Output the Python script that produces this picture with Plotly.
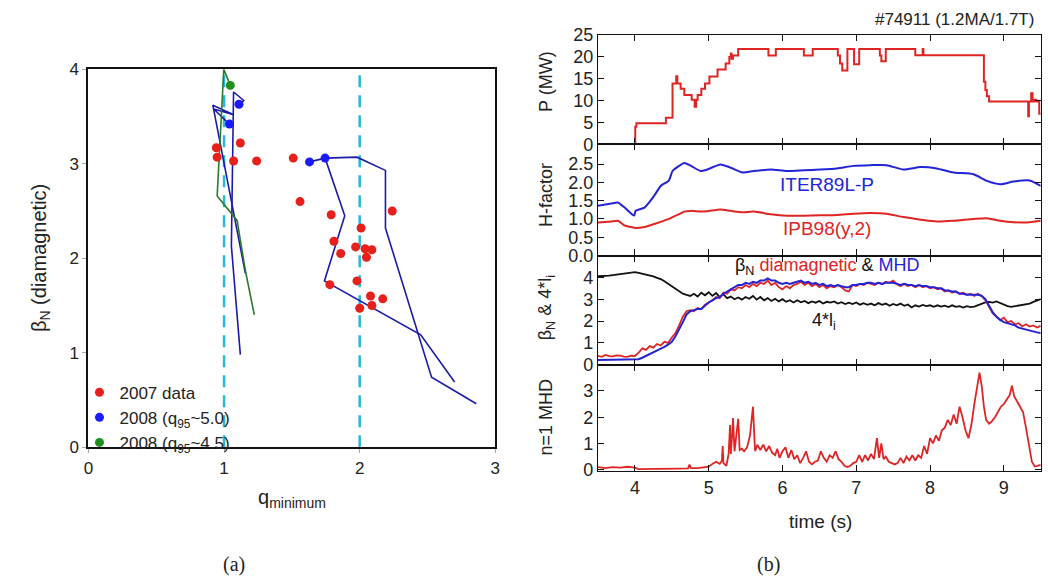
import plotly.graph_objects as go

W, H = 1048, 582
FONT = "Liberation Sans, Arial, sans-serif"

# ---------------- panel (a) data ----------------
red_q = [0.943, 0.949, 1.12, 1.07, 1.24, 1.51, 1.56, 1.79, 2.24, 2.01, 1.81, 1.97, 1.86, 2.04, 2.09,
         2.05, 1.98, 1.78, 2.08, 2.17, 2.09, 2.00]
red_b = [3.17, 3.07, 3.22, 3.03, 3.03, 3.06, 2.60, 2.46, 2.50, 2.32, 2.18, 2.12, 2.05, 2.10, 2.09,
         2.01, 1.76, 1.72, 1.60, 1.57, 1.50, 1.47]

blue_dot_q = [1.63, 1.745, 1.04, 1.11]
blue_dot_b = [3.02, 3.06, 3.42, 3.63]

blue_r2_q = [2.86, 2.53, 2.19, 2.19, 1.98, 1.745, 1.63]
blue_r2_b = [0.46, 0.74, 2.32, 2.93, 3.07, 3.06, 3.02]
blue_r1_q = [2.70, 2.45, 1.74, 1.89, 1.745]
blue_r1_b = [0.69, 1.19, 1.76, 2.45, 3.06]
blue_l1_q = [1.12, 1.054, 1.07, 1.145, 1.108]
blue_l1_b = [0.98, 2.13, 3.76, 3.67, 3.62]
blue_l2_q = [1.157, 0.917, 1.071, 0.924, 1.039]
blue_l2_b = [1.84, 3.62, 3.52, 3.58, 3.42]

green_q = [1.223, 1.157, 1.096, 0.949, 0.998, 1.046]
green_b = [1.40, 1.87, 2.40, 2.66, 4.00, 3.83]
green_dot_q = [1.046]
green_dot_b = [3.83]

ref_q = [1, 2]
ref_b = [0, 4]

# ---------------- panel (b) data ----------------
p_t = [4.00, 4.005, 4.02, 4.42, 4.51, 4.56, 4.575, 4.62, 4.67, 4.77, 4.81, 4.83, 4.85, 4.90, 4.95,
       5.01, 5.12, 5.23, 5.28, 5.30, 5.31, 5.33, 5.40, 5.81, 5.91, 6.29, 6.41, 6.75, 6.78, 6.81,
       6.88, 6.97, 7.04, 7.32, 7.34, 7.40, 7.80, 7.90, 7.91, 8.73, 8.75, 8.77, 8.80, 9.33, 9.34,
       9.37, 9.39, 9.41, 9.44, 9.48, 9.50]
p_v = [0.0, 4.0, 4.8, 6.1, 13.9, 15.6, 13.9, 12.7, 11.3, 10.2, 8.6, 10.2, 11.3, 12.7, 13.9,
       15.5, 17.1, 18.5, 20.0, 20.8, 19.6, 20.3, 21.8, 20.3, 21.8, 20.3, 21.8, 20.3, 18.5, 16.9,
       21.8, 18.3, 21.8, 20.3, 19.0, 21.8, 20.4, 21.8, 20.4, 14.3, 12.4, 11.0, 9.8, 6.4, 9.8,
       11.7, 9.8, 10.2, 9.8, 7.0, 7.0]

h_t = [3.50, 3.68, 3.77, 3.86, 3.99, 4.01, 4.13, 4.26, 4.35, 4.46, 4.51, 4.60, 4.67, 4.76, 4.89,
       4.98, 5.16, 5.30, 5.46, 5.61, 5.84, 6.06, 6.29, 6.51, 6.74, 6.96, 7.19, 7.41, 7.64, 7.87,
       8.09, 8.32, 8.59, 8.77, 8.95, 9.13, 9.35, 9.50]
h_iter = [1.36, 1.42, 1.45, 1.31, 1.09, 1.22, 1.31, 1.63, 1.90, 2.05, 2.31, 2.45, 2.53, 2.45, 2.31,
          2.35, 2.49, 2.40, 2.27, 2.31, 2.35, 2.31, 2.33, 2.35, 2.38, 2.45, 2.47, 2.47, 2.35, 2.42,
          2.38, 2.27, 2.22, 2.04, 1.95, 2.02, 2.05, 1.90]
h_ipb = [0.90, 0.93, 0.95, 0.82, 0.76, 0.75, 0.78, 0.86, 0.92, 1.00, 1.05, 1.13, 1.20, 1.22, 1.20,
         1.21, 1.26, 1.22, 1.18, 1.20, 1.13, 1.09, 1.09, 1.10, 1.11, 1.14, 1.16, 1.14, 1.05, 0.98,
         0.93, 0.95, 1.00, 1.02, 0.95, 0.91, 0.91, 0.95]

b_t = [3.50, 3.55, 3.60, 3.65, 3.70, 3.75, 3.80, 3.85, 3.90, 3.95, 4.00, 4.05, 4.10, 4.15, 4.20,
       4.25, 4.30, 4.35, 4.40, 4.45, 4.50, 4.55, 4.60, 4.65, 4.70, 4.75, 4.80, 4.85, 4.90, 4.95,
       5.00, 5.05, 5.10, 5.15, 5.20, 5.25, 5.30, 5.35, 5.40, 5.45, 5.50, 5.55, 5.60, 5.65, 5.70,
       5.75, 5.80, 5.85, 5.90, 5.95, 6.00, 6.05, 6.10, 6.15, 6.20, 6.25, 6.30, 6.35, 6.40, 6.45,
       6.50, 6.55, 6.60, 6.65, 6.70, 6.75, 6.80, 6.85, 6.90, 6.95, 7.00, 7.05, 7.10, 7.15, 7.20,
       7.25, 7.30, 7.35, 7.40, 7.45, 7.50, 7.55, 7.60, 7.65, 7.70, 7.75, 7.80, 7.85, 7.90, 7.95,
       8.00, 8.05, 8.10, 8.15, 8.20, 8.25, 8.30, 8.35, 8.40, 8.45, 8.50, 8.55, 8.60, 8.65, 8.70,
       8.75, 8.80, 8.85, 8.90, 8.95, 9.00, 9.05, 9.10, 9.15, 9.20, 9.25, 9.30, 9.35, 9.40, 9.45,
       9.50]
b_dia = [0.40, 0.36, 0.45, 0.39, 0.38, 0.43, 0.42, 0.37, 0.36, 0.42, 0.40, 0.55, 0.75, 0.68, 0.85,
         0.78, 0.95, 0.88, 1.05, 1.00, 1.25, 1.45, 1.80, 2.20, 2.45, 2.50, 2.45, 2.60, 2.55, 2.75,
         2.85, 2.95, 3.10, 3.05, 3.30, 3.25, 3.45, 3.40, 3.55, 3.50, 3.65, 3.55, 3.70, 3.60, 3.75,
         3.70, 3.85, 3.65, 3.75, 3.55, 3.45, 3.60, 3.50, 3.65, 3.70, 3.80, 3.65, 3.75, 3.60, 3.70,
         3.55, 3.65, 3.50, 3.60, 3.55, 3.65, 3.55, 3.40, 3.35, 3.65, 3.60, 3.70, 3.65, 3.75, 3.70,
         3.65, 3.75, 3.70, 3.80, 3.75, 3.85, 3.70, 3.60, 3.70, 3.60, 3.65, 3.55, 3.65, 3.55, 3.60,
         3.50, 3.55, 3.45, 3.50, 3.35, 3.40, 3.30, 3.35, 3.25, 3.30, 3.20, 3.25, 3.15, 3.25, 3.15,
         2.95, 2.65, 2.35, 2.20, 2.05, 2.15, 1.95, 2.00, 1.85, 1.90, 1.75, 1.85, 1.75, 1.80, 1.70,
         1.78]
b_mhd = [0.22, 0.22, 0.22, 0.22, 0.22, 0.22, 0.22, 0.22, 0.22, 0.22, 0.22, 0.25, 0.32, 0.40, 0.48,
         0.55, 0.63, 0.72, 0.82, 0.92, 1.05, 1.30, 1.60, 1.95, 2.30, 2.45, 2.50, 2.55, 2.55, 2.70,
         2.85, 2.95, 3.05, 3.10, 3.25, 3.35, 3.45, 3.55, 3.65, 3.65, 3.75, 3.70, 3.80, 3.75, 3.85,
         3.85, 3.95, 3.85, 3.85, 3.75, 3.70, 3.75, 3.70, 3.75, 3.80, 3.85, 3.75, 3.80, 3.70, 3.75,
         3.65, 3.70, 3.60, 3.65, 3.60, 3.65, 3.60, 3.55, 3.55, 3.65, 3.65, 3.70, 3.70, 3.75, 3.75,
         3.70, 3.75, 3.70, 3.75, 3.75, 3.75, 3.70, 3.65, 3.70, 3.65, 3.65, 3.60, 3.65, 3.60, 3.60,
         3.55, 3.55, 3.50, 3.50, 3.40, 3.40, 3.35, 3.35, 3.25, 3.25, 3.20, 3.20, 3.20, 3.20, 3.15,
         3.00, 2.70, 2.40, 2.20, 2.05, 1.95, 1.90, 1.85, 1.80, 1.70, 1.65, 1.60, 1.55, 1.50, 1.48,
         1.45]
b_li = [4.05, 4.05, 4.06, 4.08, 4.10, 4.12, 4.14, 4.16, 4.18, 4.22, 4.24, 4.20, 4.16, 4.14, 4.08,
        4.04, 3.98, 3.92, 3.82, 3.70, 3.58, 3.45, 3.35, 3.25, 3.20, 3.15, 3.25, 3.12, 3.30, 3.18,
        3.32, 3.15, 3.28, 3.10, 3.22, 3.05, 3.12, 3.00, 3.08, 2.98, 3.10, 3.02, 3.15, 2.98, 3.10,
        2.95, 3.05, 2.92, 3.02, 2.90, 3.00, 2.88, 2.95, 2.85, 2.95, 2.86, 2.92, 2.82, 2.90, 2.84,
        2.92, 2.80, 2.88, 2.84, 2.90, 2.80, 2.86, 2.78, 2.84, 2.78, 2.85, 2.75, 2.82, 2.74, 2.80,
        2.72, 2.82, 2.74, 2.80, 2.70, 2.78, 2.72, 2.80, 2.70, 2.76, 2.62, 2.72, 2.66, 2.74, 2.68,
        2.72, 2.65, 2.72, 2.66, 2.70, 2.64, 2.72, 2.65, 2.68, 2.62, 2.68, 2.64, 2.66, 2.72, 2.80,
        2.85, 2.88, 2.84, 2.90, 2.82, 2.75, 2.68, 2.65, 2.68, 2.70, 2.72, 2.78, 2.80, 2.88, 2.95,
        3.00]

m_t = [3.50, 3.60, 3.70, 3.80, 3.90, 4.00, 4.05, 4.20, 4.40, 4.60, 4.72, 4.74, 4.76, 4.85, 4.95,
       5.00, 5.05, 5.10, 5.15, 5.18, 5.19, 5.20, 5.24, 5.27, 5.29, 5.30, 5.32, 5.33, 5.35, 5.37,
       5.40, 5.42, 5.45, 5.48, 5.52, 5.56, 5.58, 5.60, 5.62, 5.63, 5.66, 5.70, 5.74, 5.78, 5.82,
       5.86, 5.90, 5.93, 5.96, 6.00, 6.04, 6.08, 6.12, 6.16, 6.20, 6.24, 6.28, 6.32, 6.36, 6.40,
       6.44, 6.48, 6.52, 6.56, 6.60, 6.64, 6.68, 6.72, 6.76, 6.80, 6.84, 6.88, 6.92, 6.96, 7.00,
       7.04, 7.08, 7.12, 7.16, 7.20, 7.24, 7.28, 7.31, 7.34, 7.37, 7.40, 7.44, 7.48, 7.52, 7.56,
       7.60, 7.64, 7.68, 7.72, 7.76, 7.80, 7.84, 7.88, 7.92, 7.96, 8.00, 8.04, 8.08, 8.12, 8.16,
       8.20, 8.24, 8.28, 8.32, 8.36, 8.40, 8.44, 8.48, 8.52, 8.56, 8.60, 8.64, 8.67, 8.70, 8.73,
       8.76, 8.80, 8.84, 8.88, 8.92, 8.96, 9.00, 9.04, 9.08, 9.11, 9.14, 9.18, 9.22, 9.26, 9.30,
       9.34, 9.38, 9.42, 9.46, 9.50]
m_v = [0.10, 0.06, 0.10, 0.08, 0.11, 0.08, 0.02, 0.02, 0.03, 0.04, 0.05, 0.19, 0.06, 0.06, 0.10,
       0.12, 0.22, 0.30, 0.22, 0.35, 0.90, 0.25, 0.15, 0.60, 1.70, 0.60, 1.40, 1.97, 0.70, 1.20,
       1.94, 0.75, 0.80, 0.70, 0.85, 1.30, 1.90, 2.40, 1.20, 0.70, 0.95, 0.75, 0.95, 0.70, 0.90,
       0.65, 0.55, 0.80, 0.45, 0.70, 0.85, 0.45, 0.75, 0.40, 0.55, 0.25, 0.45, 0.70, 0.30, 0.20,
       0.30, 0.35, 0.70, 0.45, 0.30, 0.55, 0.45, 0.70, 0.40, 0.30, 0.15, 0.10, 0.15, 0.25, 0.30,
       0.55, 0.30, 0.55, 0.35, 0.60, 0.40, 1.20, 0.45, 1.00, 0.40, 0.50, 0.30, 0.25, 0.20, 0.25,
       0.45, 0.25, 0.50, 0.35, 0.55, 0.35, 0.55, 0.45, 0.90, 0.60, 1.20, 1.00, 1.30, 1.10, 1.50,
       1.60, 1.90, 1.70, 2.10, 1.75, 2.40, 2.00, 1.50, 1.20, 1.70, 2.50, 3.20, 3.70, 3.20, 2.40,
       1.90, 1.75, 1.85, 2.00, 2.20, 2.40, 2.50, 2.70, 2.85, 3.20, 2.80, 2.60, 2.40, 2.20, 1.60,
       0.90, 0.30, 0.12, 0.15, 0.18]

t_ticks = [4, 5, 6, 7, 8, 9]

# ---------------- layout helpers: target picture pixel -> paper fraction ----------------
# (compensates the small offset/scale measured between the page and the photographed picture)
OX, SX = 2.3, 0.9933
OY, SY = 7.75, 0.9725

def fx(px):
    return min(max(((px - OX) / SX) / W, 0.0), 1.0)

def fy(py):
    return min(max(1 - ((py - OY) / SY) / H, 0.0), 1.0)

RED = "#e8201c"
BLUE_DOT = "#1a1aff"
BLUE_LINE = "#1b1ba8"
GREEN_DOT = "#1f8f1f"
GREEN_LINE = "#2a7a2a"
CYAN = "#29b6d8"
R_RED = "#e02424"
R_BLUE = "#2323d8"

fig = go.Figure()

for q in ref_q:
    fig.add_trace(go.Scatter(x=[q, q], y=ref_b, mode="lines", xaxis="x", yaxis="y",
                             line=dict(color=CYAN, width=2.5, dash="12px,8px"),
                             showlegend=False, hoverinfo="skip"))

for qs, bs in [(blue_r2_q, blue_r2_b), (blue_r1_q, blue_r1_b),
               (blue_l1_q, blue_l1_b), (blue_l2_q, blue_l2_b)]:
    fig.add_trace(go.Scatter(x=qs, y=bs, mode="lines", xaxis="x", yaxis="y",
                             line=dict(color=BLUE_LINE, width=1.6), showlegend=False))
fig.add_trace(go.Scatter(x=green_q, y=green_b, mode="lines", xaxis="x", yaxis="y",
                         line=dict(color=GREEN_LINE, width=1.6), showlegend=False))

fig.add_trace(go.Scatter(x=red_q, y=red_b, mode="markers", xaxis="x", yaxis="y",
                         marker=dict(color=RED, size=9), name="2007 data"))
fig.add_trace(go.Scatter(x=blue_dot_q, y=blue_dot_b, mode="markers", xaxis="x", yaxis="y",
                         marker=dict(color=BLUE_DOT, size=9), name="2008 (q<sub>95</sub>~5.0)"))
fig.add_trace(go.Scatter(x=green_dot_q, y=green_dot_b, mode="markers", xaxis="x", yaxis="y",
                         marker=dict(color=GREEN_DOT, size=9), name="2008 (q<sub>95</sub>~4.5)"))

fig.add_trace(go.Scatter(x=p_t, y=p_v, mode="lines", line=dict(color=R_RED, width=2, shape="hv"),
                         xaxis="x2", yaxis="y2", showlegend=False))
fig.add_trace(go.Scatter(x=h_t, y=h_iter, mode="lines", line=dict(color=R_BLUE, width=2, shape="spline", smoothing=0.6),
                         xaxis="x3", yaxis="y3", showlegend=False))
fig.add_trace(go.Scatter(x=h_t, y=h_ipb, mode="lines", line=dict(color=R_RED, width=2, shape="spline", smoothing=0.6),
                         xaxis="x3", yaxis="y3", showlegend=False))
fig.add_trace(go.Scatter(x=b_t, y=b_li, mode="lines", line=dict(color="#111111", width=1.8),
                         xaxis="x4", yaxis="y4", showlegend=False))
fig.add_trace(go.Scatter(x=b_t, y=b_dia, mode="lines", line=dict(color=R_RED, width=1.8),
                         xaxis="x4", yaxis="y4", showlegend=False))
fig.add_trace(go.Scatter(x=b_t, y=b_mhd, mode="lines", line=dict(color=R_BLUE, width=2),
                         xaxis="x4", yaxis="y4", showlegend=False))
fig.add_trace(go.Scatter(x=m_t, y=m_v, mode="lines", line=dict(color=R_RED, width=1.8),
                         xaxis="x5", yaxis="y5", showlegend=False))

left_dom_x = [fx(86), fx(494)]
left_dom_y = [fy(448), fy(67.5)]
right_dom_x = [fx(597), fx(1041)]
panels_y = [(33, 143), (143, 255), (255, 365), (365, 472)]

axis_common = dict(showgrid=False, zeroline=False, showline=True, linecolor="#111111")

layout = dict(
    width=W, height=H, margin=dict(l=0, r=0, t=0, b=0),
    paper_bgcolor="white", plot_bgcolor="white",
    font=dict(family=FONT, color="#222222"),
    showlegend=True,
    legend=dict(x=fx(77), y=fy(375), xanchor="left", yanchor="top",
                bgcolor="rgba(0,0,0,0)", font=dict(size=17, family=FONT, color="#222"),
                tracegroupgap=0, itemwidth=30),
    xaxis=dict(domain=left_dom_x, anchor="y", range=[0, 3], tickvals=[0, 1, 2, 3],
               ticks="outside", ticklen=4, tickcolor="#aaaaaa", linewidth=2, mirror=True,
               tickfont=dict(size=17), **axis_common),
    yaxis=dict(domain=left_dom_y, anchor="x", range=[0, 4], tickvals=[0, 1, 2, 3, 4],
               ticks="outside", ticklen=4, tickcolor="#aaaaaa", linewidth=2, mirror=True,
               tickfont=dict(size=17), **axis_common),
)

yranges = [[0, 25], [0, 3.04], [0, 5], [-0.05, 4.0]]
yticks = [[0, 5, 10, 15, 20, 25], [0, 0.5, 1.0, 1.5, 2.0, 2.5], [0, 1, 2, 3, 4], [0, 1, 2, 3]]
yfmt = ["d", ".1f", "d", "d"]
for i in range(4):
    n = i + 2
    top, bot = panels_y[i]
    layout[f"xaxis{n}"] = dict(domain=right_dom_x, anchor=f"y{n}", range=[3.5, 9.5], tickvals=t_ticks,
                               ticks="inside", ticklen=6, tickwidth=1.2, tickcolor="#111",
                               mirror="ticks", linewidth=1.2, showticklabels=(n == 5),
                               tickfont=dict(size=18), **axis_common)
    layout[f"yaxis{n}"] = dict(domain=[fy(bot), fy(top)], anchor=f"x{n}", range=yranges[i],
                               tickvals=yticks[i], tickformat=yfmt[i],
                               ticks="inside", ticklen=6, tickwidth=1.2, tickcolor="#111",
                               mirror="ticks", linewidth=1.2, tickfont=dict(size=18), **axis_common)

fig.update_layout(**layout)

def ann(text, x, y, size=17, color="#222222", angle=0, family=FONT, xanchor="center"):
    fig.add_annotation(text=text, x=fx(x), y=fy(y), xref="paper", yref="paper",
                       showarrow=False, textangle=angle, xanchor=xanchor, yanchor="middle",
                       font=dict(size=size, color=color, family=family))

ann("#74911 (1.2MA/1.7T)", 1036, 17, size=17, xanchor="right")
ann("(a)", 232, 566, size=20, family="Liberation Serif, DejaVu Serif, serif")
ann("(b)", 768, 566, size=20, family="Liberation Serif, DejaVu Serif, serif")
ann("β<sub>N</sub> (diamagnetic)", 38, 258, size=20, angle=-90)
ann("q<sub>minimum</sub>", 290, 500, size=20)
ann("P (MW)", 545, 80, size=18, angle=-90)
ann("H-factor", 545, 194, size=18, angle=-90)
ann("β<sub>N</sub> &amp; 4*l<sub>i</sub>", 545, 308, size=18, angle=-90)
ann("n=1 MHD", 545, 418, size=18, angle=-90)
ann("time (s)", 820, 523, size=19)
ann("ITER89L-P", 827, 183, size=19, color=R_BLUE)
ann("IPB98(y,2)", 827, 228, size=19, color=R_RED)
ann("β<sub>N</sub> <span style='color:#e02424'>diamagnetic</span> &amp; "
    "<span style='color:#2323d8'>MHD</span>", 827, 266, size=18, color="#111111")
ann("4*l<sub>i</sub>", 824, 321, size=18, color="#111111")

fig.write_html("out.html")
